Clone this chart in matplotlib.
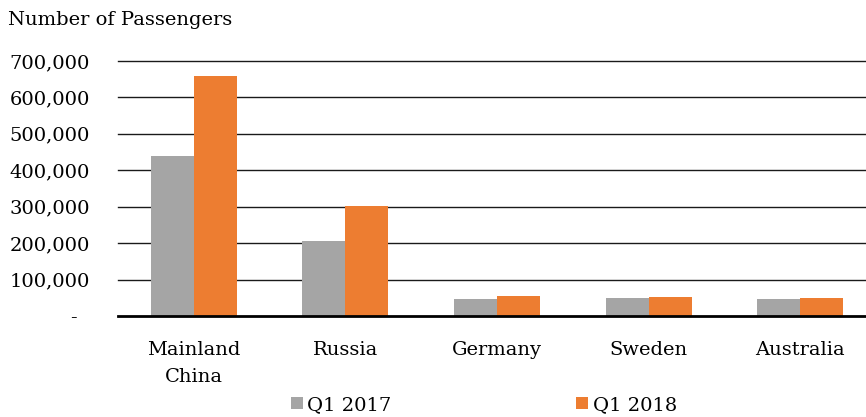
import matplotlib.pyplot as plt
import numpy as np

categories = ['Mainland\nChina', 'Russia', 'Germany', 'Sweden', 'Australia']
q1_2017 = [440000, 206000, 48000, 49000, 46000]
q1_2018 = [660000, 303000, 56000, 52000, 50000]
yticks = [0, 100000, 200000, 300000, 400000, 500000, 600000, 700000]
ytick_labels = ['-  ', '100,000', '200,000', '300,000', '400,000', '500,000', '600,000', '700,000']

plt.rcParams['font.family'] = ['DejaVu Serif']

fig = plt.figure(figsize=(8.66, 4.17), dpi=100)
ax = fig.add_axes([118/866, (417-316)/417, (866-118)/866, (316-61)/417])

x = np.arange(len(categories))
w = 0.284
ax.bar(x - w/2, q1_2017, width=w, color='#A5A5A5', label='Q1 2017', zorder=3)
ax.bar(x + w/2, q1_2018, width=w, color='#ED7D31', label='Q1 2018', zorder=3)

# gridlines
for t in yticks[1:]:
    ax.axhline(t, color='#1a1a1a', lw=1.0, zorder=1, clip_on=False)
ax.axhline(0, color='black', lw=2.0, zorder=4, clip_on=False)

ax.set_ylim(0, 700000)
ax.set_xlim(-0.5, -0.5 + (866-118)/151.6)
ax.set_yticks(yticks)
ax.set_yticklabels(ytick_labels, fontsize=14)
ax.set_xticks(x)
ax.set_xticklabels(categories, fontsize=14, linespacing=1.65)
ax.tick_params(axis='y', length=0, pad=20)
ax.tick_params(axis='x', length=0, pad=18)
for s in ax.spines.values():
    s.set_visible(False)

fig.text(8/866, 1 - 20/417, 'Number of Passengers', fontsize=14, va='center', ha='left')

fig.legend(loc='center', bbox_to_anchor=(484/866, 1 - 405/417), ncol=2, frameon=False,
           fontsize=14, handlelength=0.6, handleheight=0.6, handletextpad=0.25,
           columnspacing=9.5, borderpad=0)

fig.savefig('out.png', dpi=100)
